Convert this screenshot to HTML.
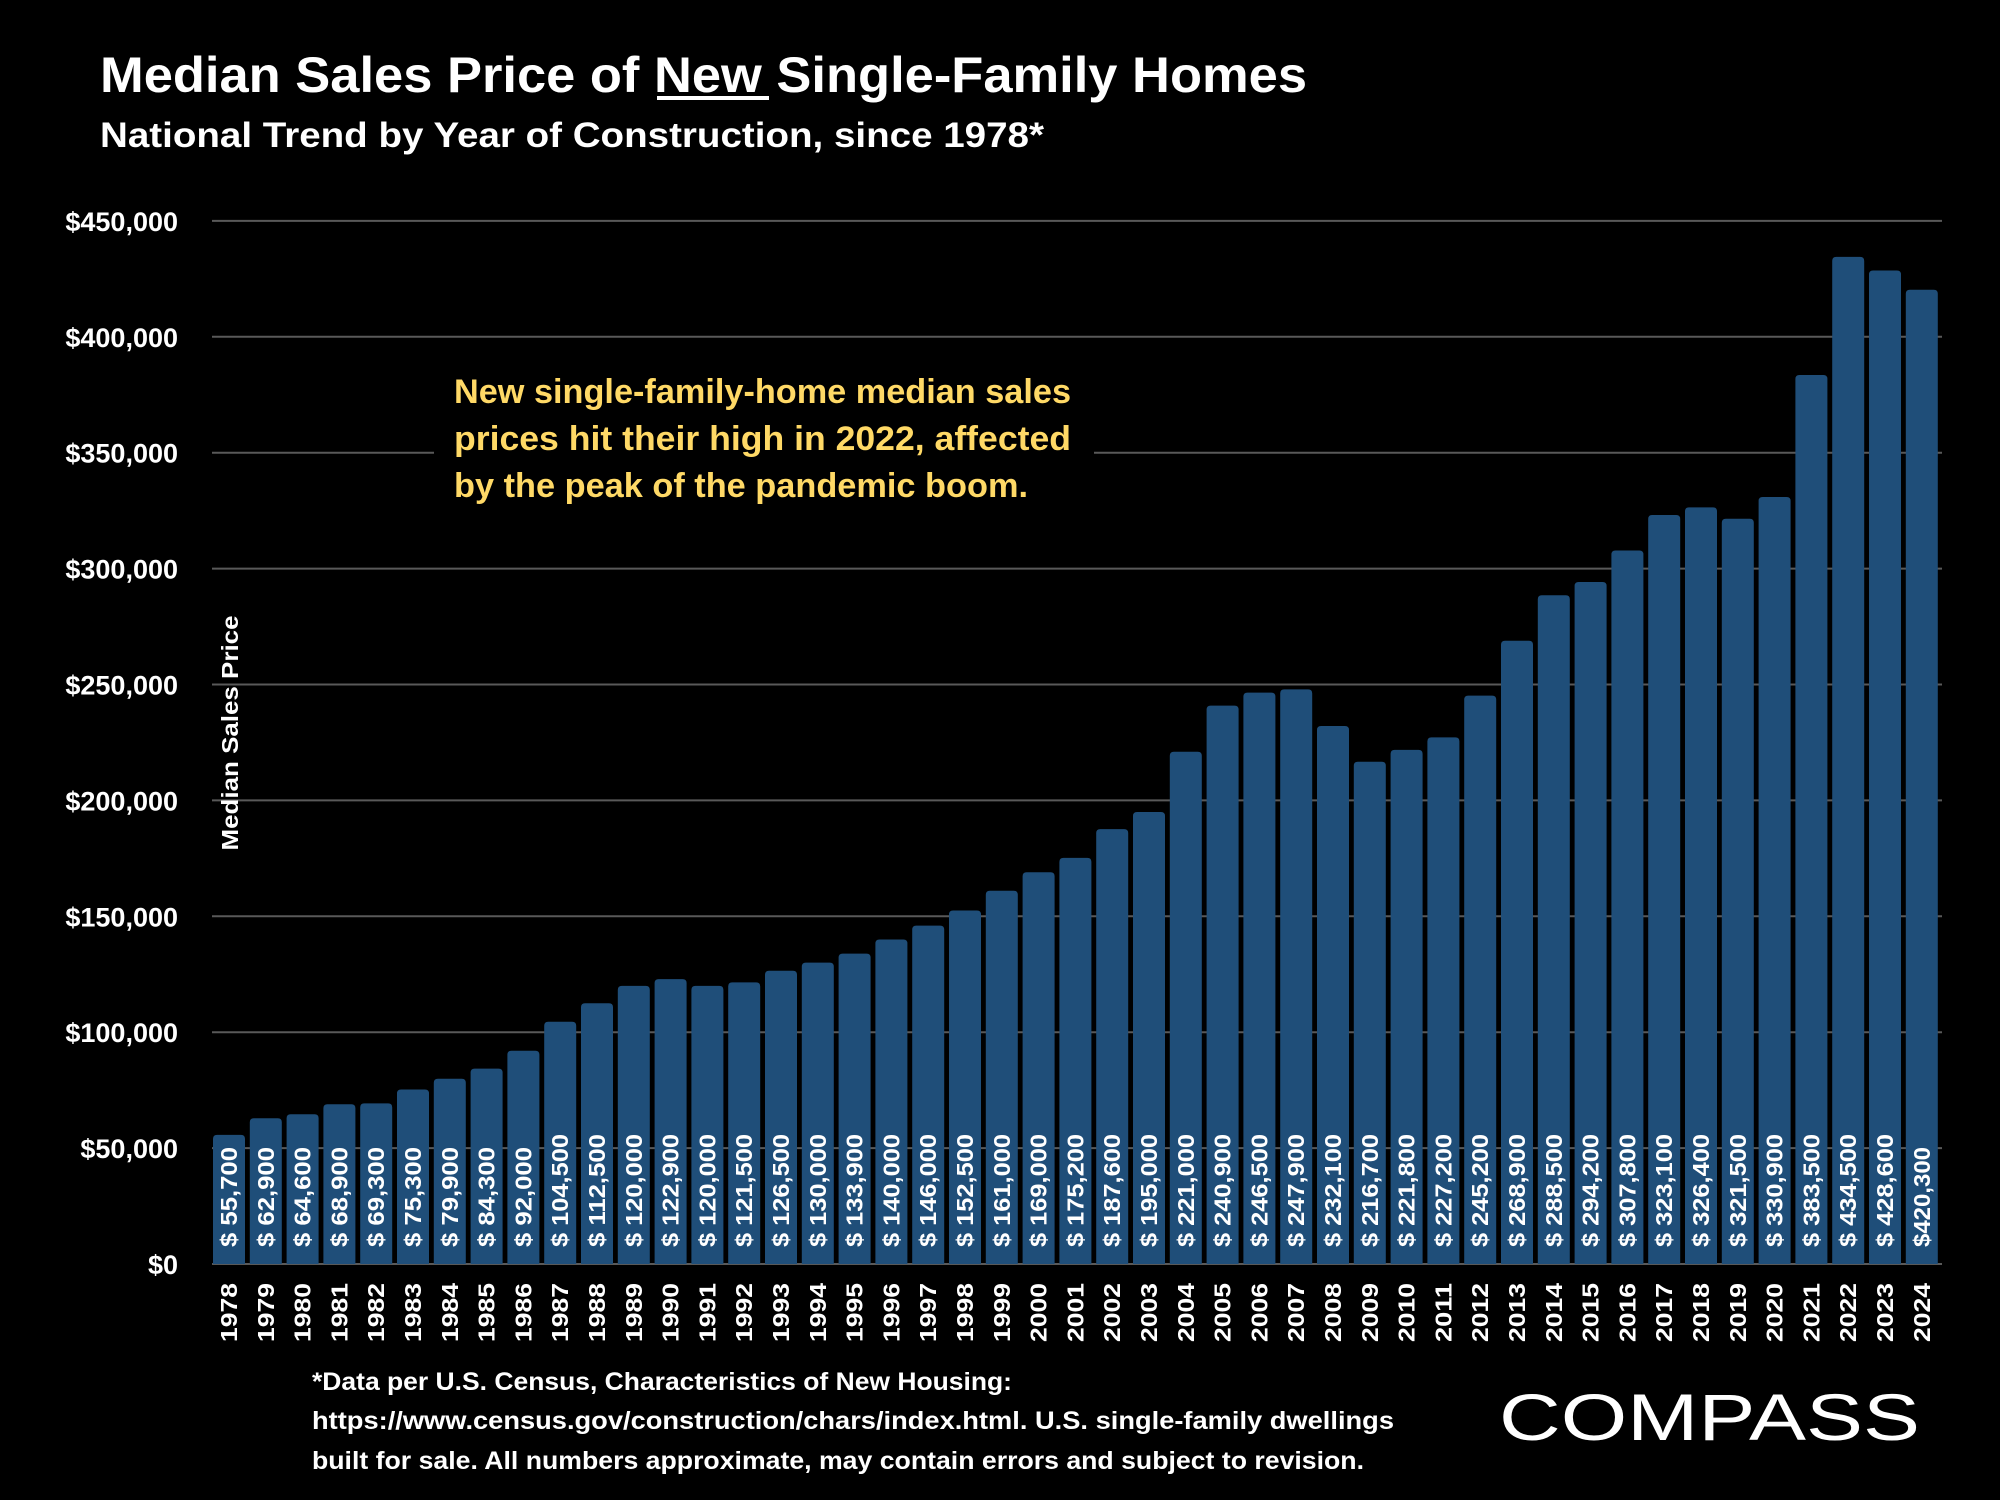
<!DOCTYPE html>
<html><head><meta charset="utf-8"><style>
html,body{margin:0;padding:0;background:#000;}
svg{display:block;font-family:"Liberation Sans",sans-serif;}
</style></head><body>
<svg id="c" width="2000" height="1500" viewBox="0 0 2000 1500" xmlns="http://www.w3.org/2000/svg">
<rect width="2000" height="1500" fill="#000"/>
<text x="100" y="92" font-size="50" font-weight="bold" fill="#fff" textLength="1207" lengthAdjust="spacingAndGlyphs">Median Sales Price of New Single-Family Homes</text>
<rect x="657" y="96" width="112" height="4" fill="#fff"/>
<text x="100" y="147" font-size="35" font-weight="bold" fill="#fff" textLength="944" lengthAdjust="spacingAndGlyphs">National Trend by Year of Construction, since 1978*</text>
<g id="grid"></g>
<g id="bars"></g>
<rect x="434" y="436" width="660" height="30" fill="#000"/>
<g font-size="34" font-weight="bold" fill="#ffd966">
<text x="454" y="403" textLength="617" lengthAdjust="spacingAndGlyphs">New single-family-home median sales</text>
<text x="454" y="450" textLength="617" lengthAdjust="spacingAndGlyphs">prices hit their high in 2022, affected</text>
<text x="454" y="497" textLength="574" lengthAdjust="spacingAndGlyphs">by the peak of the pandemic boom.</text>
</g>
<text transform="translate(238,733) rotate(-90)" text-anchor="middle" font-size="23" font-weight="bold" fill="#fff" textLength="235" lengthAdjust="spacingAndGlyphs">Median Sales Price</text>
<g font-size="25" font-weight="bold" fill="#fff">
<text x="312" y="1390" textLength="700" lengthAdjust="spacingAndGlyphs">*Data per U.S. Census, Characteristics of New Housing:</text>
<text x="312" y="1429" textLength="1082" lengthAdjust="spacingAndGlyphs">https://www.census.gov/construction/chars/index.html. U.S. single-family dwellings</text>
<text x="312" y="1469" textLength="1052" lengthAdjust="spacingAndGlyphs">built for sale. All numbers approximate, may contain errors and subject to revision.</text>
</g>
<text x="1499" y="1440" font-size="66" fill="#fff" textLength="421" lengthAdjust="spacingAndGlyphs">COMPASS</text>
</svg>
<script>
var ns="http://www.w3.org/2000/svg";
function el(p,t,a,txt){var e=document.createElementNS(ns,t);for(var k in a)e.setAttribute(k,a[k]);if(txt!=null)e.textContent=txt;p.appendChild(e);return e;}
var g=document.getElementById('grid'),b=document.getElementById('bars');
var y0=1264,u=115.9/50000;
for(var i=0;i<=9;i++){var y=y0-i*115.9;
el(g,'line',{x1:212,x2:1942,y1:y,y2:y,stroke:'#595959','stroke-width':2});
var v=i*50000;var s='$'+(v==0?'0':v.toLocaleString('en-US'));
el(g,'text',{x:178,y:y+10,'text-anchor':'end','font-size':27,'font-weight':'bold',fill:'#fff'},s);}
var vals=[55700,62900,64600,68900,69300,75300,79900,84300,92000,104500,112500,120000,122900,120000,121500,126500,130000,133900,140000,146000,152500,161000,169000,175200,187600,195000,221000,240900,246500,247900,232100,216700,221800,227200,245200,268900,288500,294200,307800,323100,326400,321500,330900,383500,434500,428600,420300];
for(var i=0;i<vals.length;i++){
var x=213+i*36.8,h=vals[i]*u,w=32,cx=x+w/2;
el(b,'path',{d:'M'+x+','+y0+'V'+(y0-h+4)+'Q'+x+','+(y0-h)+' '+(x+4)+','+(y0-h)+'H'+(x+w-4)+'Q'+(x+w)+','+(y0-h)+' '+(x+w)+','+(y0-h+4)+'V'+y0+'Z',fill:'#1f4e79'});
var lab=(i==46?'$':'$ ')+vals[i].toLocaleString('en-US');
var len=lab.length>=9?113:100;
el(b,'text',{transform:'translate('+(cx+8)+',1247) rotate(-90)','font-size':23,'font-weight':'bold',fill:'#fff',textLength:len,lengthAdjust:'spacingAndGlyphs'},lab);
el(b,'text',{transform:'translate('+(cx+8)+',1283) rotate(-90)','text-anchor':'end','font-size':23,'font-weight':'bold',fill:'#fff',textLength:59,lengthAdjust:'spacingAndGlyphs'},String(1978+i));
}
</script>
</body></html>
